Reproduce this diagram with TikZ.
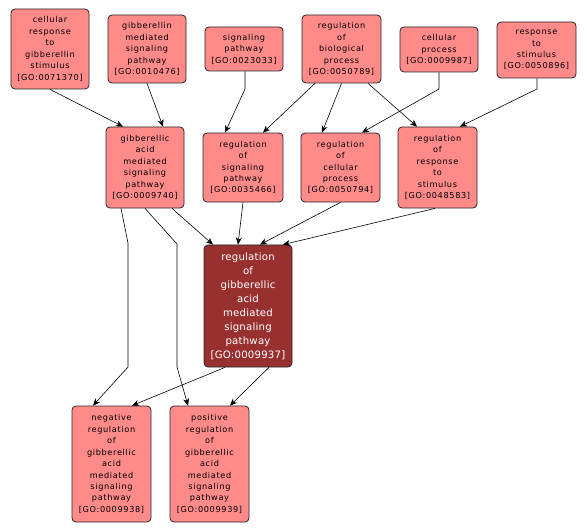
\documentclass[tikz,border=0pt]{standalone}
\usepackage{fontspec}
\setmainfont{DejaVu Sans}
\newfontfamily\gofont[LetterSpace=8]{DejaVu Sans}
\newfontfamily\gofontc[LetterSpace=2]{DejaVu Sans}
\usetikzlibrary{arrows.meta,calc}
\definecolor{gopink}{RGB}{255,138,138}
\definecolor{godark}{RGB}{153,48,48}
\begin{document}
\begin{tikzpicture}[x=1bp,y=-1bp,
  term/.style={draw=black!85,line width=0.8pt,fill=gopink,rounded corners=4bp,
    align=center,inner sep=0pt,text=black,font=\gofont\fontsize{8.2}{11.5}\selectfont},
  focus/.style={term,fill=godark,text=white,font=\gofontc\fontsize{10.2}{14}\selectfont},
  edge/.style={draw=black,line width=0.6pt,-{Stealth[length=7bp,width=6bp,inset=2bp]}}]
\useasboundingbox[fill=white] (0,0) rectangle (587,531);
% top row
\node[term,minimum width=78bp,minimum height=80bp] (A) at (50,49) {cellular\\response\\to\\gibberellin\\stimulus\\{[GO:0071370]}};
\node[term,minimum width=78bp,minimum height=68bp] (B) at (147,49) {gibberellin\\mediated\\signaling\\pathway\\{[GO:0010476]}};
\node[term,minimum width=78bp,minimum height=44bp] (C) at (244,49) {signaling\\pathway\\{[GO:0023033]}};
\node[term,minimum width=79bp,minimum height=68bp] (D) at (341.5,49) {regulation\\of\\biological\\process\\{[GO:0050789]}};
\node[term,minimum width=78bp,minimum height=45bp] (E) at (439,49.5) {cellular\\process\\{[GO:0009987]}};
\node[term,minimum width=79bp,minimum height=56bp] (F) at (536.5,50) {response\\to\\stimulus\\{[GO:0050896]}};
% middle row
\node[term,minimum width=78bp,minimum height=81bp] (G) at (145,167.5) {gibberellic\\acid\\mediated\\signaling\\pathway\\{[GO:0009740]}};
\node[term,minimum width=80bp,minimum height=69bp] (H) at (243,167.5) {regulation\\of\\signaling\\pathway\\{[GO:0035466]}};
\node[term,minimum width=79bp,minimum height=69bp] (I) at (340.5,167.5) {regulation\\of\\cellular\\process\\{[GO:0050794]}};
\node[term,minimum width=79bp,minimum height=81bp] (J) at (437.5,167.5) {regulation\\of\\response\\to\\stimulus\\{[GO:0048583]}};
% focus
\node[focus,minimum width=88bp,minimum height=122bp] (K) at (248,306) {regulation\\of\\gibberellic\\acid\\mediated\\signaling\\pathway\\{[GO:0009937]}};
% bottom
\node[term,minimum width=79bp,minimum height=116bp] (L) at (111.5,464) {negative\\regulation\\of\\gibberellic\\acid\\mediated\\signaling\\pathway\\{[GO:0009938]}};
\node[term,minimum width=79bp,minimum height=116bp] (M) at (209.5,464) {positive\\regulation\\of\\gibberellic\\acid\\mediated\\signaling\\pathway\\{[GO:0009939]}};
% bend points
\coordinate (c1) at (245,89);
\coordinate (e1) at (439,89);
\coordinate (f1) at (537,89);
\coordinate (g1) at (128,243);
\coordinate (g2) at (128,367);
\coordinate (g3) at (177,244);
\coordinate (g4) at (177,367);
% edges
\draw[edge] (A.south) -- ([xshift=-22bp]G.north);
\draw[edge] (B.south) -- ([xshift=18bp]G.north);
\draw[edge] ([xshift=1bp]C.south) -- (c1) -- ([xshift=-18bp]H.north);
\draw[edge] ([xshift=-26.5bp]D.south) -- ([xshift=20bp]H.north);
\draw[edge] (D.south) -- ([xshift=-18.5bp]I.north);
\draw[edge] ([xshift=26.5bp]D.south) -- ([xshift=-20.5bp]J.north);
\draw[edge] (E.south) -- (e1) -- ([xshift=21.5bp]I.north);
\draw[edge] ([xshift=0.5bp]F.south) -- (f1) -- ([xshift=22.5bp]J.north);
\draw[edge] ([xshift=27bp]G.south) -- ([xshift=-35bp]K.north);
\draw[edge] (H.south) -- ([xshift=-10bp]K.north);
\draw[edge] (I.south) -- ([xshift=12bp]K.north);
\draw[edge] ([xshift=-2.5bp]J.south) -- ([xshift=35bp]K.north);
\draw[edge] ([xshift=-24bp]G.south) -- (g1) -- (g2) -- ([xshift=-18.5bp]L.north);
\draw[edge] (G.south) -- (g3) -- (g4) -- ([xshift=-21.5bp]M.north);
\draw[edge] ([xshift=-23bp]K.south) -- ([xshift=20.5bp]L.north);
\draw[edge] ([xshift=21bp]K.south) -- ([xshift=20.5bp]M.north);
\end{tikzpicture}
\end{document}
